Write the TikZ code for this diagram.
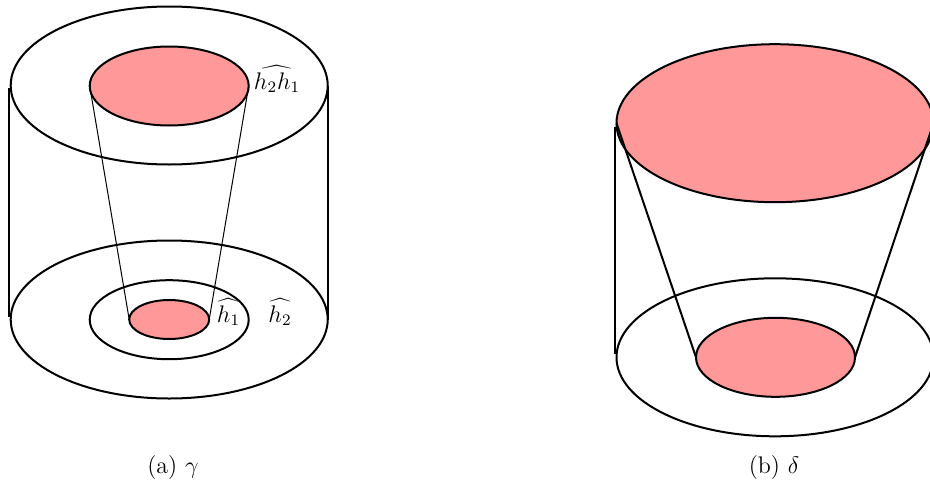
\documentclass[12pt,tikz,border=0pt]{standalone}
\usetikzlibrary{shapes.geometric}
\definecolor{diskred}{HTML}{FF9999}
\tikzset{
  ring/.style={ellipse,draw=black,line width=1pt,inner sep=0pt,outer sep=0pt},
  bigring/.style={ring,minimum width=158.5*2*0.5pt,minimum height=79*0.5pt*2},
  midring/.style={ring,minimum width=79.5*2*0.5pt,minimum height=39.5*2*0.5pt},
  smallring/.style={ring,minimum width=40*2*0.5pt,minimum height=19.5*2*0.5pt},
  disk/.style={fill=diskred},
  wall/.style={draw=black,line width=1pt},
  cone/.style={draw=black,line width=0.5pt},
  thickcone/.style={draw=black,line width=1pt},
  lab/.style={anchor=base,inner sep=0pt,outer sep=0pt}
}
\begin{document}
\begin{tikzpicture}[x=0.5pt,y=-0.5pt]
\useasboundingbox (0,0) rectangle (930,487);
% left cylinder
\node[bigring] (atop) at (169.2,85.5) {};
\node[midring,disk] (ahole) at (169.2,86) {};
\node[bigring] (abot) at (169.2,319.5) {};
\node[midring] (amid) at (169.2,319.7) {};
\node[smallring,disk] (ain) at (169.2,319.5) {};
\coordinate (alt) at (9,88);
\coordinate (alb) at (9,317);
\draw[wall] (alt) -- (alb);
\draw[wall] (atop.east) -- (abot.east);
\draw[cone] (ahole.west) -- (ain.west);
\draw[cone] (ahole.east) -- (ain.east);
\node[lab] (l1) at (277,89) {$\widehat{h_2h_1}$};
\node[lab] (l2) at (228.5,322) {$\widehat{h_1}$};
\node[lab] (l3) at (280,322) {$\widehat{h_2}$};
\node[lab] (capa) at (173,473) {(a) $\gamma$};
% right cylinder
\node[bigring,disk] (btop) at (775,123.2) {};
\node[bigring] (bbot) at (775,357.3) {};
\node[midring,disk] (bin) at (775.5,357.3) {};
\coordinate (blt) at (615,126.7);
\coordinate (blb) at (615,354);
\draw[wall] (blt) -- (blb);
\draw[thickcone] (btop.west) -- (bin.west);
\draw[thickcone] (btop.east) -- (bin.east);
\node[lab] (capb) at (774,473) {(b) $\delta$};
\end{tikzpicture}
\end{document}
